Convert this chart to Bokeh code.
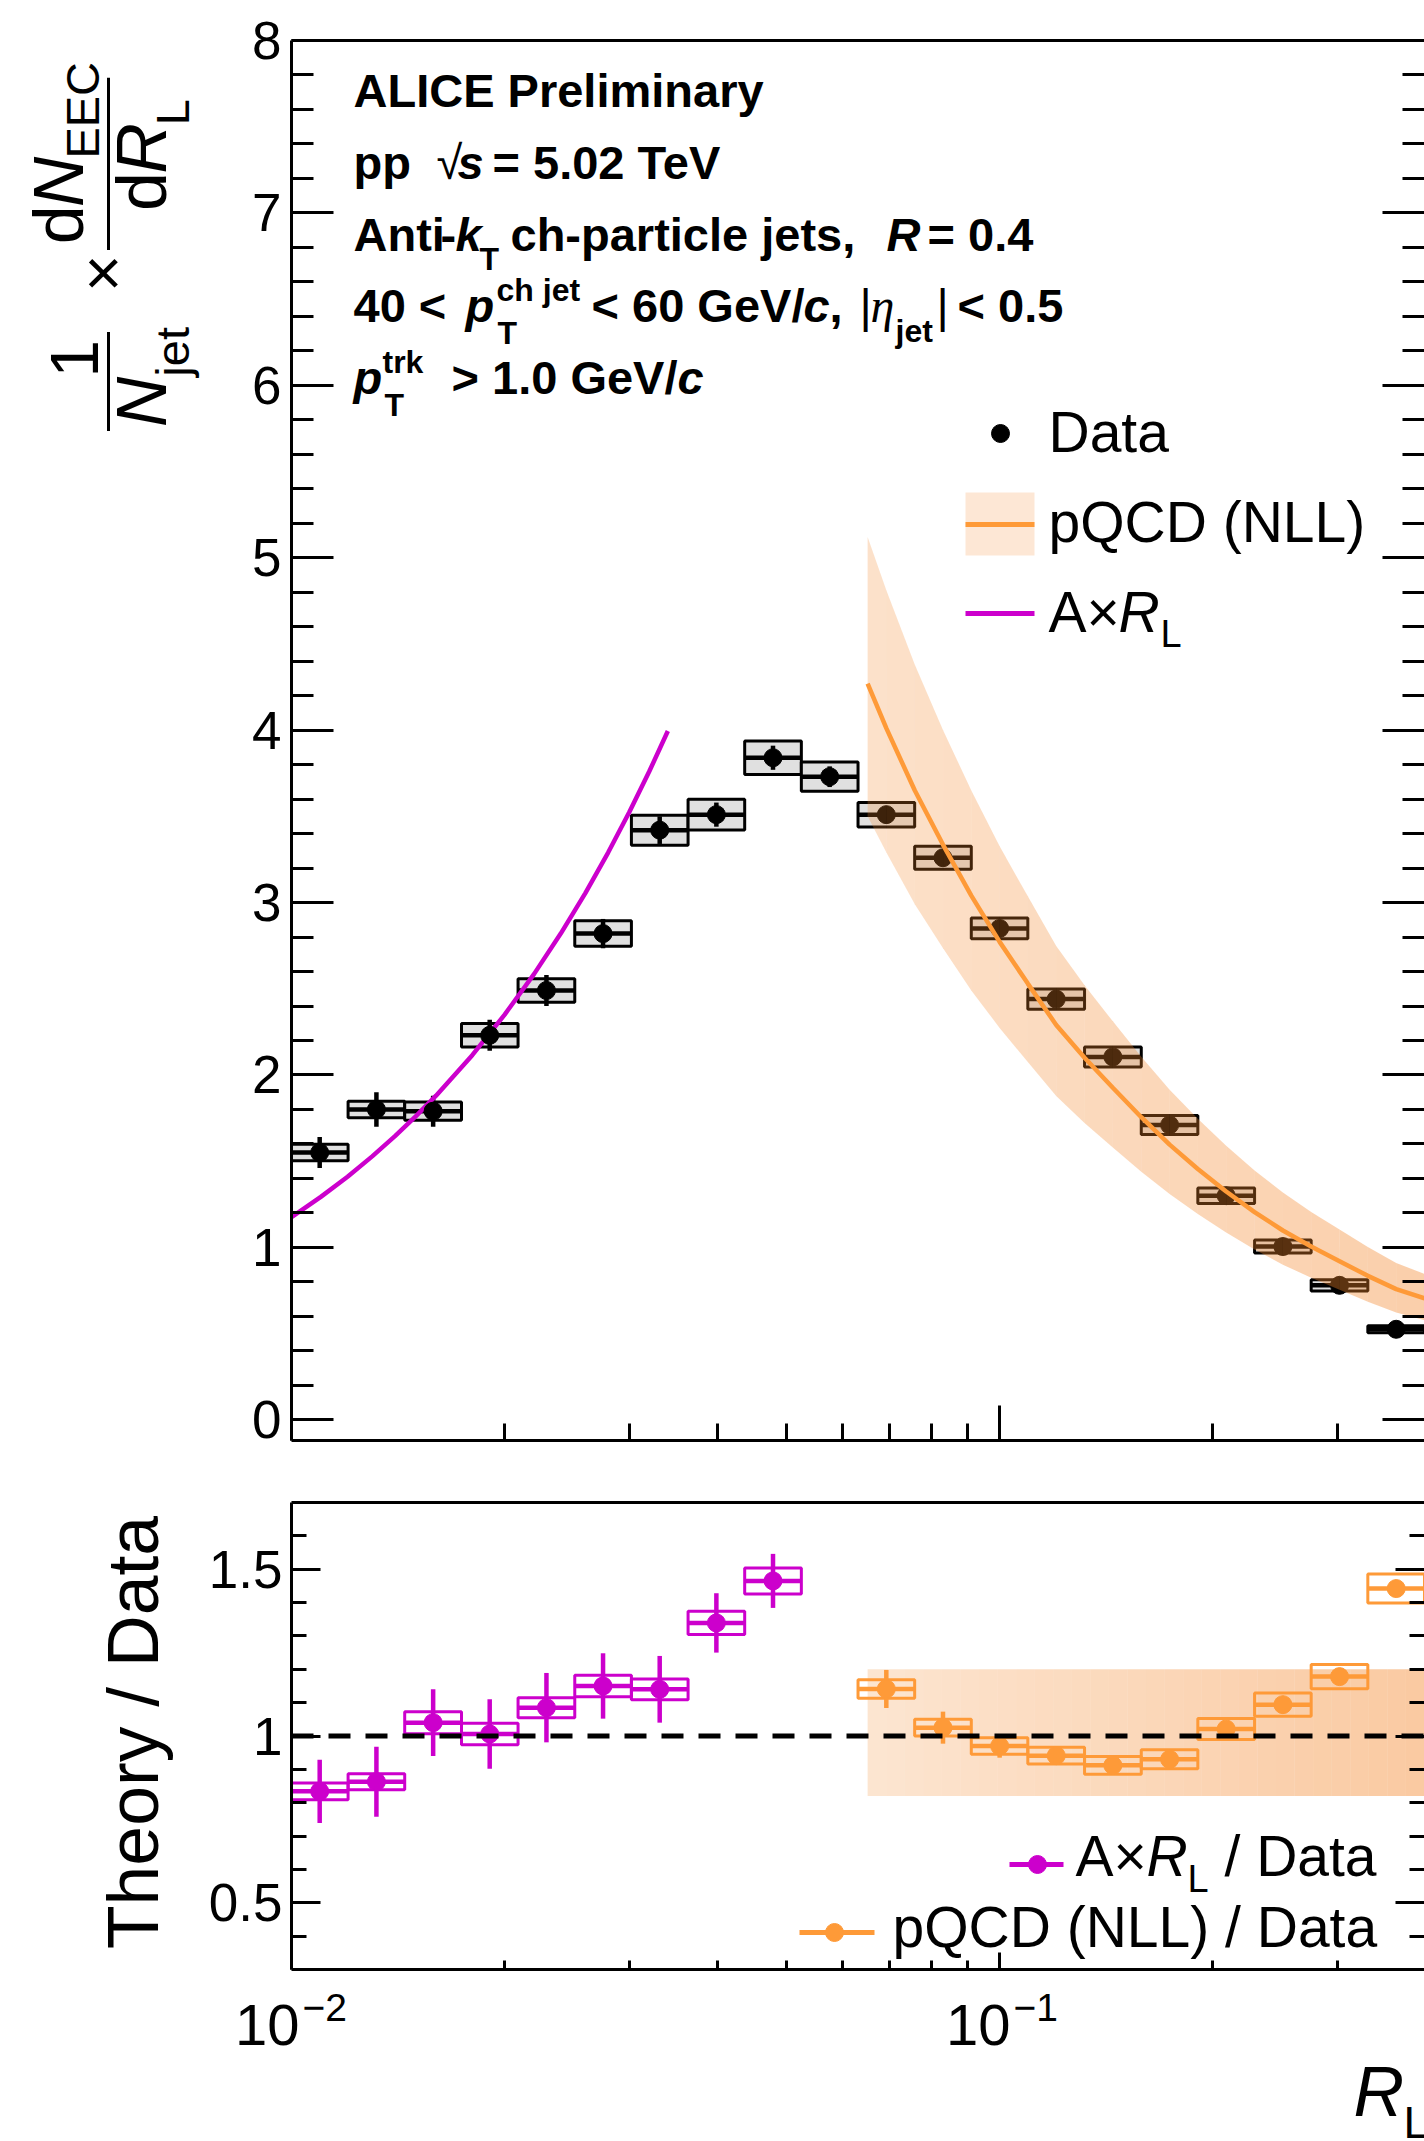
import numpy as np
from bokeh.plotting import figure
from bokeh.models import FixedTicker, LinearAxis, LogAxis, Range1d, Span
from bokeh.layouts import column, row
from bokeh.core.properties import value
from bokeh.embed import file_html
from bokeh.resources import INLINE

# ---------------- data ----------------
bin_lo = [0.0100, 0.01202, 0.01445, 0.01738, 0.02089, 0.02512, 0.03020, 0.03631, 0.04365, 0.05248,
          0.06310, 0.07586, 0.09120, 0.1096, 0.1318, 0.1585, 0.1905, 0.2291, 0.2754, 0.3311]
bin_hi = [0.01202, 0.01445, 0.01738, 0.02089, 0.02512, 0.03020, 0.03631, 0.04365, 0.05248, 0.06310,
          0.07586, 0.09120, 0.1096, 0.1318, 0.1585, 0.1905, 0.2291, 0.2754, 0.3311, 0.3981]
bin_c = [0.01096, 0.01318, 0.01585, 0.01905, 0.02291, 0.02754, 0.03311, 0.03981, 0.04786, 0.05754,
         0.06918, 0.08318, 0.1000, 0.1202, 0.1445, 0.1738, 0.2089, 0.2512, 0.3020, 0.3631]

data_y = [1.55, 1.80, 1.79, 2.23, 2.49, 2.82, 3.42, 3.51, 3.84, 3.73,
          3.51, 3.26, 2.85, 2.44, 2.105, 1.71, 1.30, 1.005, 0.78, 0.525]
data_stat = [0.09, 0.10, 0.09, 0.09, 0.09, 0.085, 0.08, 0.07, 0.07, 0.06,
             0.05, 0.045, 0.04, 0.03, 0.025, 0.02, 0.02, 0.015, 0.015, 0.012]
data_sys = [0.048, 0.048, 0.053, 0.068, 0.068, 0.074, 0.087, 0.089, 0.097, 0.085,
            0.071, 0.067, 0.060, 0.059, 0.058, 0.055, 0.045, 0.038, 0.033, 0.020]

# A x R_L curve
ax_r = [0.0100, 0.0110, 0.0120, 0.0130, 0.0140, 0.0150, 0.0160, 0.0180, 0.0200,
        0.0220, 0.0240, 0.0260, 0.0280, 0.0300, 0.0320, 0.0340]
ax_y = [1.175, 1.293, 1.410, 1.528, 1.645, 1.763, 1.880, 2.115, 2.350,
        2.585, 2.820, 3.055, 3.290, 3.525, 3.760, 3.995]

# pQCD (NLL) curve and band
pqcd_r = [0.0651, 0.0692, 0.0759, 0.0832, 0.0912, 0.1000, 0.1096, 0.1202, 0.1318, 0.1445, 0.1585,
          0.1738, 0.1905, 0.2089, 0.2291, 0.2512, 0.2754, 0.3020, 0.3311, 0.3631, 0.3981]
pqcd_mid = [4.27, 4.01, 3.65, 3.335, 3.04, 2.772, 2.53, 2.29, 2.10, 1.926, 1.755,
            1.596, 1.455, 1.324, 1.205, 1.098, 1.005, 0.920, 0.835, 0.758, 0.705]
pqcd_lo = [3.50, 3.29, 2.99, 2.735, 2.49, 2.273, 2.075, 1.878, 1.722, 1.579, 1.439,
           1.309, 1.193, 1.086, 0.988, 0.900, 0.824, 0.754, 0.685, 0.622, 0.578]
pqcd_hi = [5.12, 4.81, 4.38, 4.00, 3.65, 3.326, 3.036, 2.748, 2.52, 2.311, 2.106,
           1.915, 1.746, 1.589, 1.446, 1.318, 1.206, 1.104, 1.002, 0.910, 0.846]

# ratios
ratio_a = [0.834, 0.863, 1.040, 1.006, 1.085, 1.150, 1.140, 1.339, 1.465]
ratio_a_stat = [0.095, 0.105, 0.100, 0.104, 0.104, 0.098, 0.100, 0.089, 0.081]
ratio_a_sys = [0.025, 0.024, 0.033, 0.032, 0.030, 0.032, 0.031, 0.035, 0.039]

ratio_p = [1.141, 1.025, 0.970, 0.941, 0.912, 0.930, 1.021, 1.094, 1.178, 1.442]
ratio_p_stat = [0.057, 0.048, 0.035, 0.020, 0.015, 0.015, 0.015, 0.015, 0.015, 0.015]
ratio_p_sys = [0.0275, 0.025, 0.025, 0.025, 0.0265, 0.0285, 0.0315, 0.035, 0.0365, 0.0435]
ratio_band_lo = 0.82
ratio_band_hi = 1.20

# ---------------- geometry / style ----------------
FONT = "Liberation Sans"
MAG = "#cc00cc"
ORA = "#fe9a38"
BAND = "#f3872b"
W = 1424
FL = 291            # frame left (page px)
STRIP = 203         # width of the left title strip
MAIN_H = 1470
MAIN_FT, MAIN_FB = 40, 1440
RAT_TOP = MAIN_H
RAT_FT, RAT_FB = 1502, 1969
RAT_H = 1973 - RAT_TOP
BOT_TOP = 1973
H = 2141
XR = (0.01, 0.3981)
FW = W - FL
BASE_FIX = 0.38     # empirical baseline correction of the text renderer (in em)
ROT_FIX = 4         # small along-text correction for rotated text (px)


def px2x(px):
    return 10 ** (np.log10(XR[0]) + (px - FL) / FW * (np.log10(XR[1]) - np.log10(XR[0])))


def py2y_main(py):
    return 8.0 - (py - MAIN_FT) * 8.12 / (MAIN_FB - MAIN_FT)


def py2y_rat(py):
    return 1.7 - (py - RAT_FT) * 1.4 / (RAT_FB - RAT_FT)


def ident(v):
    return v


def style_axis(ax, maj_in, min_in, labels=True, size="53px", standoff=10, line=True):
    ax.major_tick_in = maj_in
    ax.major_tick_out = 0
    ax.minor_tick_in = min_in
    ax.minor_tick_out = 0
    ax.major_tick_line_width = 3
    ax.minor_tick_line_width = 3
    ax.major_tick_line_color = "black"
    ax.minor_tick_line_color = "black"
    if line:
        ax.axis_line_width = 3
        ax.axis_line_color = "black"
    else:
        ax.axis_line_color = None
    if labels:
        ax.major_label_text_font = FONT
        ax.major_label_text_font_size = size
        ax.major_label_text_color = "black"
        ax.major_label_standoff = standoff
    else:
        ax.major_label_text_font_size = "1px"
        ax.major_label_text_alpha = 0.0
        ax.major_label_standoff = 0


def txt(p, fx, fy, px, py, text, size, style="normal", align="left", baseline="alphabetic",
        angle=0.0, color="black", font=FONT):
    # px, py: wanted page position of the anchor (baseline)
    if baseline == "alphabetic":
        if angle == 0.0:
            py = py - BASE_FIX * size
        else:
            px = px - BASE_FIX * size
            py = py - ROT_FIX
    p.text(x=[fx(px)], y=[fy(py)], text=[text], text_font=value(font), text_font_size=value(f"{size}px"),
           text_font_style=style, text_align=align, text_baseline=baseline, angle=angle,
           text_color=color)


def make_fig(width, height, yr, left, top, bottom):
    p = figure(width=width, height=height, x_axis_type="log", x_range=Range1d(*XR), y_range=Range1d(*yr),
               output_backend="svg", toolbar_location=None, min_border_left=left, min_border_right=0,
               min_border_top=top, min_border_bottom=bottom)
    p.outline_line_color = None
    p.xgrid.visible = False
    p.ygrid.visible = False
    p.background_fill_color = "white"
    p.border_fill_color = "white"
    return p


def make_canvas(width, x0, x1, y_top, y_bot):
    # plain drawing area whose data coordinates are page pixels
    p = figure(width=width, height=int(round(y_bot - y_top)), x_range=Range1d(x0, x1),
               y_range=Range1d(y_bot, y_top), output_backend="svg", toolbar_location=None,
               x_axis_location=None, y_axis_location=None, min_border=0)
    p.min_border_left = p.min_border_right = p.min_border_top = p.min_border_bottom = 0
    p.outline_line_color = None
    p.grid.visible = False
    p.background_fill_color = "white"
    p.border_fill_color = "white"
    return p


x_major = [0.01, 0.1]
x_minor = [0.02, 0.03, 0.04, 0.05, 0.06, 0.07, 0.08, 0.09, 0.2, 0.3]

# ================= main panel =================
main = make_fig(W - STRIP, MAIN_H, (-0.12, 8.0), FL - STRIP, MAIN_FT, MAIN_H - MAIN_FB)
main.xaxis[0].ticker = FixedTicker(ticks=x_major, minor_ticks=x_minor)
style_axis(main.xaxis[0], 35, 17, labels=False)
y_major = [0, 1, 2, 3, 4, 5, 6, 7, 8]
y_minor = [round(0.2 * i, 1) for i in range(41) if i % 5]
main.yaxis[0].ticker = FixedTicker(ticks=y_major, minor_ticks=y_minor)
style_axis(main.yaxis[0], 42, 22, labels=True, size="53px", standoff=10)
top_ax = LogAxis(ticker=FixedTicker(ticks=[0.01]))
style_axis(top_ax, 0, 0, labels=False)
main.add_layout(top_ax, "above")
right_ax = LinearAxis(ticker=FixedTicker(ticks=y_major, minor_ticks=y_minor))
style_axis(right_ax, 42, 22, labels=False, line=False)
main.add_layout(right_ax, "right")

main.quad(left=bin_lo, right=bin_hi,
          bottom=[y - s for y, s in zip(data_y, data_sys)], top=[y + s for y, s in zip(data_y, data_sys)],
          fill_color="#e0e0e0", line_color="black", line_width=3)
main.segment(x0=bin_lo, x1=bin_hi, y0=data_y, y1=data_y, line_color="black", line_width=4.5)
main.segment(x0=bin_c, x1=bin_c, y0=[y - e for y, e in zip(data_y, data_stat)],
             y1=[y + e for y, e in zip(data_y, data_stat)], line_color="black", line_width=4.5)
main.line(ax_r, ax_y, line_color=MAG, line_width=4.5)
main.scatter(bin_c, data_y, size=18, color="black")

lr = np.log10(pqcd_r)
for i in range(len(pqcd_r) - 1):
    frac = ((lr[i] + lr[i + 1]) / 2 - lr[0]) / (lr[-1] - lr[0])
    main.varea(x=pqcd_r[i:i + 2], y1=pqcd_lo[i:i + 2], y2=pqcd_hi[i:i + 2],
               fill_color=BAND, fill_alpha=0.25 + 0.15 * frac)
main.line(pqcd_r, pqcd_mid, line_color=ORA, line_width=4.5)

# legend (main)
X = px2x
Ym = py2y_main
main.scatter([X(1000)], [Ym(433)], size=18, color="black")
txt(main, X, Ym, 1048, 453, "Data", 57)
main.quad(left=[X(965)], right=[X(1034)], bottom=[Ym(555)], top=[Ym(492)],
          fill_color=BAND, fill_alpha=0.2, line_color=None)
main.segment(x0=[X(965)], x1=[X(1034)], y0=[Ym(524)], y1=[Ym(524)], line_color=ORA, line_width=5)
txt(main, X, Ym, 1048, 543, "pQCD (NLL)", 57)
main.segment(x0=[X(965)], x1=[X(1034)], y0=[Ym(613)], y1=[Ym(613)], line_color=MAG, line_width=5)
txt(main, X, Ym, 1048, 633, "A×", 57)
txt(main, X, Ym, 1118, 633, "R", 57, style="italic")
txt(main, X, Ym, 1160, 648, "L", 38)

# header text
B = "bold"
BI = "bold italic"
HS = 47
SS = 32
header = [
    (353, 108, "ALICE Preliminary", HS, B, FONT),
    (353, 180, "pp", HS, B, FONT),
    (436, 180, "√", HS, "normal", FONT),
    (457, 180, "s", HS, BI, FONT),
    (492, 180, "= 5.02 TeV", HS, B, FONT),
    (353, 252, "Anti", HS, B, FONT),
    (440, 252, "-", HS, B, FONT),
    (455, 252, "k", HS, BI, FONT),
    (479, 271, "T", SS, B, FONT),
    (510, 252, "ch-particle jets,", HS, B, FONT),
    (886, 252, "R", HS, BI, FONT),
    (927, 252, "= 0.4", HS, B, FONT),
    (353, 323, "40 <", HS, B, FONT),
    (465, 323, "p", HS, BI, FONT),
    (496, 302, "ch jet", SS, B, FONT),
    (497, 345, "T", SS, B, FONT),
    (591, 323, "< 60 GeV/", HS, B, FONT),
    (803, 323, "c", HS, BI, FONT),
    (829, 323, ",", HS, B, FONT),
    (859, 323, "|", HS, "normal", FONT),
    (870, 323, "η", 48, "italic", "Liberation Serif"),
    (895, 343, "jet", SS, B, FONT),
    (936, 323, "|", HS, "normal", FONT),
    (957, 323, "< 0.5", HS, B, FONT),
    (353, 395, "p", HS, BI, FONT),
    (382, 374, "trk", SS, B, FONT),
    (384, 417, "T", SS, B, FONT),
    (451, 395, "> 1.0 GeV/", HS, B, FONT),
    (677, 395, "c", HS, BI, FONT),
]
for (hx, hy, t, s, st, f) in header:
    txt(main, X, Ym, hx, hy, t, s, style=st, font=f)

# ================= left strip with the main y title =================
R90 = np.pi / 2
strip_m = make_canvas(STRIP, 0, STRIP, 0, MAIN_H)
I = ident
txt(strip_m, I, I, 100, 358, "1", 68, angle=R90)
txt(strip_m, I, I, 168, 410, "N", 70, "italic", angle=R90)
txt(strip_m, I, I, 190, 357, "jet", 47, angle=R90)
txt(strip_m, I, I, 127, 268, "×", 64, angle=R90)
txt(strip_m, I, I, 85, 218, "d", 70, angle=R90)
txt(strip_m, I, I, 85, 179, "N", 70, "italic", angle=R90)
txt(strip_m, I, I, 100, 128, "EEC", 47, angle=R90)
txt(strip_m, I, I, 168, 183, "d", 70, angle=R90)
txt(strip_m, I, I, 168, 144, "R", 70, "italic", angle=R90)
txt(strip_m, I, I, 190, 93, "L", 47, angle=R90)
strip_m.quad(left=[106.5, 106.5], right=[109.5, 109.5], top=[306, 39], bottom=[410, 220],
             fill_color="black", line_color=None)

# ================= ratio panel =================
ratio = make_fig(W - STRIP, RAT_H, (0.3, 1.7), FL - STRIP, RAT_FT - RAT_TOP, RAT_TOP + RAT_H - RAT_FB)
ratio.xaxis[0].ticker = FixedTicker(ticks=x_major, minor_ticks=x_minor)
style_axis(ratio.xaxis[0], 17, 9, labels=False)
r_major = [0.5, 1, 1.5]
r_minor = [0.4, 0.6, 0.7, 0.8, 0.9, 1.1, 1.2, 1.3, 1.4, 1.6]
ratio.yaxis[0].ticker = FixedTicker(ticks=r_major, minor_ticks=r_minor)
ratio.yaxis[0].major_label_overrides = {0.5: "0.5", 1: "1", 1.5: "1.5"}
style_axis(ratio.yaxis[0], 29, 15, labels=True, size="53px", standoff=9)
top_ax2 = LogAxis(ticker=FixedTicker(ticks=[0.01]))
style_axis(top_ax2, 0, 0, labels=False)
ratio.add_layout(top_ax2, "above")
right_ax2 = LinearAxis(ticker=FixedTicker(ticks=r_major, minor_ticks=r_minor))
style_axis(right_ax2, 29, 15, labels=False, line=False)
ratio.add_layout(right_ax2, "right")

edges = np.logspace(np.log10(pqcd_r[0]), np.log10(XR[1]), 31)
alphas = list(np.linspace(0.22, 0.44, 30))
ratio.quad(left=edges[:-1], right=edges[1:], bottom=ratio_band_lo, top=ratio_band_hi,
           fill_color=BAND, fill_alpha=alphas, line_color=None)

a_lo, a_hi, a_c = bin_lo[:9], bin_hi[:9], bin_c[:9]
p_lo, p_hi, p_c = bin_lo[10:], bin_hi[10:], bin_c[10:]
for (lo, hi, v, sy, col) in [(a_lo, a_hi, ratio_a, ratio_a_sys, MAG), (p_lo, p_hi, ratio_p, ratio_p_sys, ORA)]:
    ratio.quad(left=lo, right=hi, bottom=[y - s for y, s in zip(v, sy)], top=[y + s for y, s in zip(v, sy)],
               fill_color=None, line_color=col, line_width=3)
    ratio.segment(x0=lo, x1=hi, y0=v, y1=v, line_color=col, line_width=4.5)

ratio.add_layout(Span(location=1.0, dimension="width", line_color="black", line_width=5, line_dash="22 15"))

for (c, v, st, col) in [(a_c, ratio_a, ratio_a_stat, MAG), (p_c, ratio_p, ratio_p_stat, ORA)]:
    ratio.segment(x0=c, x1=c, y0=[y - e for y, e in zip(v, st)], y1=[y + e for y, e in zip(v, st)],
                  line_color=col, line_width=4.5)
    ratio.scatter(c, v, size=18, color=col)

Yr = py2y_rat
ratio.segment(x0=[X(1009)], x1=[X(1063)], y0=[Yr(1864)], y1=[Yr(1864)], line_color=MAG, line_width=5)
ratio.scatter([X(1037)], [Yr(1864)], size=18, color=MAG)
txt(ratio, X, Yr, 1075, 1877, "A×", 57)
txt(ratio, X, Yr, 1146, 1877, "R", 57, style="italic")
txt(ratio, X, Yr, 1187, 1893, "L", 38)
txt(ratio, X, Yr, 1224, 1877, "/ Data", 57)
ratio.segment(x0=[X(799)], x1=[X(874)], y0=[Yr(1932)], y1=[Yr(1932)], line_color=ORA, line_width=5)
ratio.scatter([X(834)], [Yr(1932)], size=18, color=ORA)
txt(ratio, X, Yr, 892, 1948, "pQCD (NLL) / Data", 57)

strip_r = make_canvas(STRIP, 0, STRIP, RAT_TOP, RAT_TOP + RAT_H)
txt(strip_r, I, I, 160, 1955, "Theory / Data", 71.5, angle=R90)

# ================= bottom strip: x tick labels, x title =================
bottom = make_canvas(W, 0, W, BOT_TOP, H)
txt(bottom, I, I, 299, 2047, "10", 58, align="right")
txt(bottom, I, I, 302, 2022, "−2", 39)
txt(bottom, I, I, 1010, 2047, "10", 58, align="right")
txt(bottom, I, I, 1013, 2022, "−1", 39)
txt(bottom, I, I, 1353, 2118, "R", 70, style="italic")
txt(bottom, I, I, 1403, 2139, "L", 45)
txt(bottom, I, I, 23, 2133, "ALI-PREL-540330", 40, style="bold", baseline="top", color="#a8a8a8")

layout = column(row(strip_m, main, spacing=0), row(strip_r, ratio, spacing=0), bottom, spacing=0)
open("out.html", "w").write(file_html(layout, INLINE, "EEC"))
